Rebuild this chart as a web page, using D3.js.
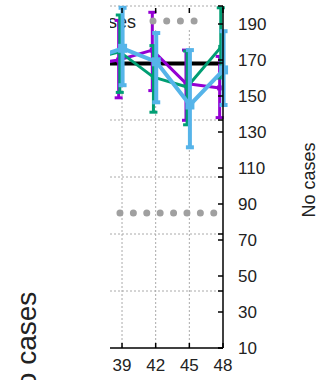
<!DOCTYPE html>
<html>
<head>
<meta charset="utf-8">
<script src="https://cdn.jsdelivr.net/npm/d3@7"></script>
<style>
  body { margin: 0; background: #fff; }
  svg { display: block; font-family: "Liberation Sans", Arial, sans-serif; }
</style>
</head>
<body>
<svg width="327" height="380"></svg>
<script>
const weeks = [36, 39, 42, 45, 48];
const xTicks = [39, 42, 45, 48];
const yTicks = [10, 30, 50, 70, 90, 110, 130, 150, 170, 190];
const gridTicks = [0, 20, 40, 60, 80, 100, 120]; // hidden left axis

const purpleVal = [167, 170, 175.5, 157, 154.5];
const purpleLo = [150, 149, 153, 136.5, 138];
const purpleHi = [185, 192, 196.5, 175.5, 172];

const greenVal = [170, 174.5, 160.5, 155, 177];
const greenLo = [152, 152, 141, 134, 160];
const greenHi = [188, 195, 178, 175, 199];

const blueVal = [170, 176.5, 169, 145, 164.5];
const blueLo = [150, 156, 146.5, 121.5, 145];
const blueHi = [190, 199, 185, 175.5, 186];

const refLine = 168;
const noCases = 85;

const svg = d3.select("svg");
const pLeft = 110, pRight = 223, pTop = 6, pBottom = 348;

const x = d3.scaleLinear().domain([38, 48]).range([110.8, 223]);
const y = d3.scaleLinear().domain([10, 200]).range([pBottom, pTop]);
const yGrid = d3.scaleLinear().domain([0, 120]).range([pBottom, pTop]);

svg.append("defs").append("clipPath").attr("id", "clip")
  .append("rect").attr("x", pLeft).attr("y", 0).attr("width", 120).attr("height", pBottom + 2);

const plot = svg.append("g").attr("clip-path", "url(#clip)");

// gridlines
plot.append("g")
  .selectAll("line")
  .data(gridTicks.slice(1))
  .enter().append("line")
  .attr("x1", pLeft).attr("x2", pRight)
  .attr("y1", d => yGrid(d)).attr("y2", d => yGrid(d))
  .attr("stroke", "#aaa").attr("stroke-width", 1).attr("stroke-dasharray", "2,2");

plot.append("g")
  .selectAll("line")
  .data(xTicks.slice(0, 3))
  .enter().append("line")
  .attr("x1", d => x(d)).attr("x2", d => x(d))
  .attr("y1", 30).attr("y2", pBottom)
  .attr("stroke", "#aaa").attr("stroke-width", 1).attr("stroke-dasharray", "2,2");

// legend text (cut at the left edge)
plot.append("text")
  .attr("x", 136).attr("y", 28)
  .attr("text-anchor", "end")
  .style("font-size", "18px").attr("fill", "#222")
  .text("No cases");

// gray dotted no-cases line
plot.append("line")
  .attr("x1", x(weeks[0])).attr("x2", x(weeks[weeks.length - 1]))
  .attr("y1", y(noCases)).attr("y2", y(noCases))
  .attr("stroke", "#a0a0a0").attr("stroke-width", 7)
  .attr("stroke-linecap", "round")
  .attr("stroke-dasharray", "0 13.4").attr("stroke-dashoffset", -4.8);

// black reference line
plot.append("line")
  .attr("x1", pLeft).attr("x2", pRight)
  .attr("y1", y(refLine)).attr("y2", y(refLine))
  .attr("stroke", "#000").attr("stroke-width", 4);

const series = [
  { color: "#9400d3", val: purpleVal, lo: purpleLo, hi: purpleHi, dx: -0.3, w: 3, m: 5 },
  { color: "#009e73", val: greenVal, lo: greenLo, hi: greenHi, dx: -0.2, w: 3, m: 5 },
  { color: "#56b4e9", val: blueVal, lo: blueLo, hi: blueHi, dx: 0.05, w: 4, m: 9 }
];

const line = d3.line().x(d => x(d.x)).y(d => y(d.v));

series.forEach(s => {
  const pts = weeks.map((w, i) => ({ x: w + s.dx, v: s.val[i], lo: s.lo[i], hi: s.hi[i] }));
  const g = plot.append("g");
  g.append("path").datum(pts)
    .attr("d", line)
    .attr("fill", "none").attr("stroke", s.color).attr("stroke-width", s.w)
    .attr("stroke-linejoin", "round");
  const bars = g.selectAll("g").data(pts).enter().append("g");
  bars.append("line")
    .attr("x1", d => x(d.x)).attr("x2", d => x(d.x))
    .attr("y1", d => y(d.lo)).attr("y2", d => y(d.hi))
    .attr("stroke", s.color).attr("stroke-width", s.w);
  bars.append("line")
    .attr("x1", d => x(d.x) - 4).attr("x2", d => x(d.x) + 4)
    .attr("y1", d => y(d.lo)).attr("y2", d => y(d.lo))
    .attr("stroke", s.color).attr("stroke-width", s.w);
  bars.append("line")
    .attr("x1", d => x(d.x) - 4).attr("x2", d => x(d.x) + 4)
    .attr("y1", d => y(d.hi)).attr("y2", d => y(d.hi))
    .attr("stroke", s.color).attr("stroke-width", s.w);
  bars.append("rect")
    .attr("x", d => x(d.x) - s.m / 2).attr("y", d => y(d.v) - s.m / 2)
    .attr("width", s.m).attr("height", s.m)
    .attr("fill", s.color);
});

// legend sample
plot.append("line")
  .attr("x1", 153).attr("x2", 195).attr("y1", 21).attr("y2", 21)
  .attr("stroke", "#a0a0a0").attr("stroke-width", 7)
  .attr("stroke-linecap", "round").attr("stroke-dasharray", "0 13.7");

// axes
svg.append("line")
  .attr("x1", pLeft).attr("x2", pRight).attr("y1", pBottom).attr("y2", pBottom)
  .attr("stroke", "#000").attr("stroke-width", 1.5);
svg.append("line")
  .attr("x1", pRight).attr("x2", pRight).attr("y1", pTop).attr("y2", pBottom)
  .attr("stroke", "#000").attr("stroke-width", 1.5);

// x ticks (bottom + mirrored top)
svg.append("g").selectAll("line").data(xTicks).enter().append("line")
  .attr("x1", d => x(d)).attr("x2", d => x(d))
  .attr("y1", pBottom).attr("y2", pBottom - 5)
  .attr("stroke", "#000").attr("stroke-width", 1.5);
svg.append("g").selectAll("line").data(xTicks).enter().append("line")
  .attr("x1", d => x(d)).attr("x2", d => x(d))
  .attr("y1", 8).attr("y2", 13)
  .attr("stroke", "#000").attr("stroke-width", 1.5);

svg.append("g").selectAll("text").data(xTicks).enter().append("text")
  .attr("x", d => x(d)).attr("y", 371)
  .attr("text-anchor", "middle")
  .style("font-size", "17px").attr("fill", "#222")
  .text(d => d);

// y ticks on right axis (inward) + mirrored grid ticks
svg.append("g").selectAll("line").data(yTicks).enter().append("line")
  .attr("x1", pRight).attr("x2", pRight - 5)
  .attr("y1", d => y(d)).attr("y2", d => y(d))
  .attr("stroke", "#000").attr("stroke-width", 1.5);
svg.append("g").selectAll("line").data(gridTicks).enter().append("line")
  .attr("x1", pRight).attr("x2", pRight - 5)
  .attr("y1", d => yGrid(d)).attr("y2", d => yGrid(d))
  .attr("stroke", "#000").attr("stroke-width", 1.5);

svg.append("g").selectAll("text").data(yTicks).enter().append("text")
  .attr("x", 238).attr("y", d => y(d) + 6)
  .style("font-size", "17px").attr("fill", "#222")
  .text(d => d);

// axis titles
svg.append("text")
  .attr("transform", "translate(315,180) rotate(-90)")
  .attr("text-anchor", "middle")
  .style("font-size", "18px").attr("fill", "#222")
  .text("No cases");

svg.append("text")
  .attr("transform", "translate(36,350) rotate(-90)")
  .attr("text-anchor", "middle")
  .style("font-size", "28px").attr("fill", "#222")
  .text("No cases");
</script>
</body>
</html>
